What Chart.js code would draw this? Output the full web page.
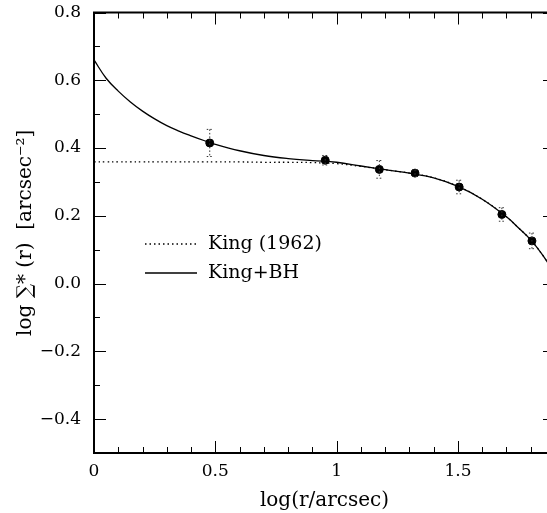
<!DOCTYPE html>
<html><head><meta charset="utf-8">
<script src="https://cdn.jsdelivr.net/npm/chart.js@4.4.1/dist/chart.umd.min.js"></script>
<style>html,body{margin:0;padding:0;background:#fff;overflow:hidden;} canvas{display:block;}</style>
</head><body>
<canvas id="c" width="560" height="513" style="width:560px;height:513px"></canvas>
<script>
// model curves (x = log r)
const curveX   = [0, 0.05, 0.1, 0.15, 0.2, 0.25, 0.3, 0.35, 0.4, 0.45, 0.5, 0.6, 0.7, 0.8, 0.9, 1.0, 1.1, 1.2, 1.3, 1.4, 1.5, 1.6, 1.7, 1.75, 1.8, 1.85, 1.9];
const kingBhY  = [0.660, 0.606, 0.568, 0.536, 0.509, 0.486, 0.466, 0.450, 0.436, 0.423, 0.411, 0.392, 0.378, 0.369, 0.363, 0.358, 0.347, 0.336, 0.326, 0.312, 0.287, 0.249, 0.197, 0.164, 0.129, 0.083, 0.028];
const kingY    = [0.359, 0.359, 0.359, 0.359, 0.359, 0.359, 0.359, 0.359, 0.359, 0.359, 0.359, 0.359, 0.358, 0.358, 0.357, 0.354, 0.346, 0.336, 0.326, 0.312, 0.287, 0.249, 0.197, 0.164, 0.129, 0.083, 0.028];
// observations
const obsX   = [0.477, 0.953, 1.176, 1.323, 1.505, 1.681, 1.805];
const obsY   = [0.415, 0.364, 0.337, 0.326, 0.285, 0.204, 0.126];
const obsErr = [0.040, 0.014, 0.026, 0.010, 0.020, 0.020, 0.023];
// ticks
const xTicks = [0, 0.5, 1, 1.5];
const xTickLabels = ['0', '0.5', '1', '1.5'];
const yTicks = [0.8, 0.6, 0.4, 0.2, 0, -0.2, -0.4];
const yTickLabels = ['0.8', '0.6', '0.4', '0.2', '0.0', '\u22120.2', '\u22120.4'];
const legendLabels = ['King (1962)', 'King+BH'];

const FONT = 'DejaVu Serif';

const framePlugin = {
  id: 'frame',
  afterDatasetsDraw(chart) {
    const {ctx, chartArea: a, scales: {x, y}} = chart;
    ctx.save();
    // error bars
    ctx.strokeStyle = '#333';
    ctx.lineWidth = 1;
    ctx.setLineDash([1.5, 2]);
    for (let i = 0; i < obsX.length; i++) {
      const px = x.getPixelForValue(obsX[i]);
      const y1 = y.getPixelForValue(obsY[i] + obsErr[i]);
      const y2 = y.getPixelForValue(obsY[i] - obsErr[i]);
      ctx.beginPath();
      ctx.moveTo(px, y1); ctx.lineTo(px, y2);
      ctx.moveTo(px - 3, y1); ctx.lineTo(px + 3, y1);
      ctx.moveTo(px - 3, y2); ctx.lineTo(px + 3, y2);
      ctx.stroke();
    }
    ctx.setLineDash([]);
    // frame & ticks
    ctx.strokeStyle = '#000';
    ctx.lineWidth = 2;
    ctx.beginPath();
    ctx.moveTo(a.left, a.bottom); ctx.lineTo(a.left, a.top); ctx.lineTo(a.right, a.top); ctx.lineTo(a.right, a.bottom); ctx.closePath();
    ctx.stroke();
    ctx.lineWidth = 1;
    ctx.beginPath();
    for (let i = 0; i <= 19; i++) {
      const px = Math.round(x.getPixelForValue(i / 10)) + 0.5;
      const len = i % 5 === 0 ? 12 : 6;
      ctx.moveTo(px, a.bottom); ctx.lineTo(px, a.bottom - len);
      ctx.moveTo(px, a.top); ctx.lineTo(px, a.top + len);
    }
    for (let i = -5; i <= 8; i++) {
      const py = Math.round(y.getPixelForValue(i / 10)) + 0.5;
      const len = i % 2 === 0 ? 12 : 6;
      ctx.moveTo(a.left, py); ctx.lineTo(a.left + len, py);
      ctx.moveTo(a.right, py); ctx.lineTo(a.right - len, py);
    }
    ctx.stroke();
    // legend
    const items = [{ds: chart.data.datasets[1], y: 244}, {ds: chart.data.datasets[0], y: 273}];
    ctx.font = '19px "' + FONT + '"';
    ctx.fillStyle = '#000';
    ctx.textBaseline = 'middle';
    items.forEach(it => {
      ctx.strokeStyle = '#000';
      ctx.lineWidth = it.ds.borderWidth;
      ctx.setLineDash(it.ds.borderDash || []);
      ctx.beginPath();
      ctx.moveTo(145, it.y); ctx.lineTo(197, it.y);
      ctx.stroke();
      ctx.setLineDash([]);
      ctx.fillText(it.ds.label, 208, it.y);
    });
    ctx.restore();
  }
};

new Chart(document.getElementById('c'), {
  type: 'scatter',
  data: {
    datasets: [
      {
        type: 'line', label: legendLabels[1],
        data: curveX.map((v, i) => ({x: v, y: kingBhY[i]})),
        borderColor: '#000', borderWidth: 1.3, pointRadius: 0,
        tension: 0.4, fill: false, order: 1
      },
      {
        type: 'line', label: legendLabels[0],
        data: curveX.map((v, i) => ({x: v, y: kingY[i]})),
        borderColor: '#000', borderWidth: 1.3, borderDash: [1.5, 3], pointRadius: 0,
        tension: 0.4, fill: false, order: 2
      },
      {
        label: 'data',
        data: obsX.map((v, i) => ({x: v, y: obsY[i]})),
        backgroundColor: '#000', borderColor: '#000', pointRadius: 4, order: 0
      }
    ]
  },
  plugins: [framePlugin],
  options: {
    responsive: false,
    animation: false,
    events: [],
    clip: false,
    layout: {padding: {top: 12.5, right: 5, left: 0, bottom: 0}},
    plugins: {legend: {display: false}, tooltip: {enabled: false}},
    scales: {
      x: {
        type: 'linear', min: 0, max: 1.9,
        afterFit(s) { s.height = 60; s.paddingLeft = 0; s.paddingRight = 0; },
        afterBuildTicks(s) { s.ticks = xTicks.map(v => ({value: v})); },
        ticks: {
          color: '#000', font: {family: FONT, size: 17}, padding: 8, maxRotation: 0,
          callback: (v) => xTickLabels[xTicks.indexOf(v)]
        },
        grid: {display: true, drawOnChartArea: false, drawTicks: false},
        border: {display: false},
        title: {display: true, text: 'log(r/arcsec)', color: '#000', font: {family: FONT, size: 20}, padding: {top: 0, bottom: 0}}
      },
      y: {
        type: 'linear', min: -0.5, max: 0.8,
        afterFit(s) { s.width = 94; s.paddingTop = 0; s.paddingBottom = 0; },
        afterBuildTicks(s) { s.ticks = yTicks.map(v => ({value: v})); },
        ticks: {
          color: '#000', font: {family: FONT, size: 17}, padding: 13,
          callback: (v) => yTickLabels[yTicks.indexOf(v)]
        },
        grid: {display: true, drawOnChartArea: false, drawTicks: false},
        border: {display: false},
        title: {display: true, text: 'log \u2211* (r)  [arcsec\u207B\u00B2]', color: '#000', font: {family: FONT, size: 20}, padding: {top: 14, bottom: 0}}
      }
    }
  }
});
</script>
</body></html>
